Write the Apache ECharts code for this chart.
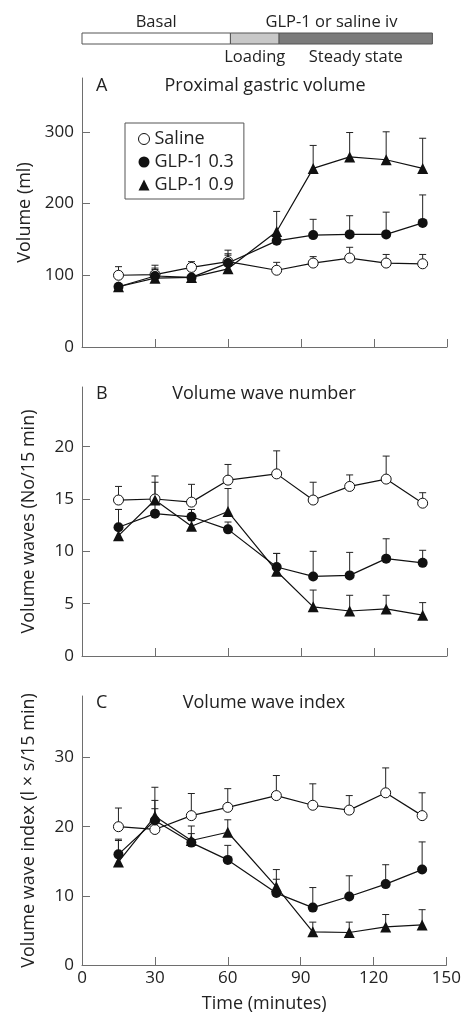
<!DOCTYPE html>
<html>
<head>
<meta charset="utf-8">
<title>GLP-1 proximal gastric volume</title>
<script src="https://cdn.jsdelivr.net/npm/echarts@6.0.0/dist/echarts.min.js"></script>
<style>
  html, body { margin: 0; padding: 0; background: #fff; }
  #chart { width: 464px; height: 1015px; }
</style>
</head>
<body>
<div id="chart"></div>
<script>
// sampling times (minutes)
var times = [15, 30, 45, 60, 80, 95, 110, 125, 140];
var xTicks = [0, 30, 60, 90, 120, 150];

// A: proximal gastric volume (ml), mean and mean+SEM
var volSaline = [100, 101, 111, 119, 107, 117, 124, 117, 116];
var volSalineErr = [112, 114, 119, 135, 118, 126, 139, 129, 129];
var volGlp03 = [84, 99, 97, 117, 148, 156, 157, 157, 173];
var volGlp03Err = [88, 110, 101, 130, 152, 178, 183, 188, 212];
var volGlp09 = [84, 96, 97, 109, 161, 249, 265, 261, 249];
var volGlp09Err = [88, 108, 101, 128, 189, 281, 299, 300, 291];
var volTicks = [0, 100, 200, 300];

// B: volume wave number (No/15 min)
var numSaline = [14.9, 15.0, 14.7, 16.8, 17.4, 14.9, 16.2, 16.9, 14.6];
var numSalineErr = [16.2, 16.6, 16.4, 18.3, 19.6, 16.6, 17.3, 19.1, 15.6];
var numGlp03 = [12.3, 13.6, 13.3, 12.1, 8.5, 7.6, 7.7, 9.3, 8.9];
var numGlp03Err = [14.0, 14.9, 14.0, 12.8, 9.8, 10.0, 9.9, 11.2, 10.1];
var numGlp09 = [11.5, 14.9, 12.4, 13.8, 8.1, 4.7, 4.3, 4.5, 3.9];
var numGlp09Err = [14.0, 17.2, 13.0, 16.0, 9.8, 6.3, 5.8, 5.8, 5.1];
var numTicks = [0, 5, 10, 15, 20];

// C: volume wave index (l x s/15 min)
var idxSaline = [20.0, 19.6, 21.6, 22.8, 24.5, 23.1, 22.4, 24.9, 21.6];
var idxSalineErr = [22.7, 22.6, 24.8, 25.5, 27.4, 26.2, 24.5, 28.5, 24.9];
var idxGlp03 = [16.0, 20.9, 17.7, 15.2, 10.4, 8.3, 9.9, 11.7, 13.8];
var idxGlp03Err = [18.2, 23.8, 20.1, 17.3, 12.4, 11.2, 12.9, 14.5, 17.8];
var idxGlp09 = [14.9, 21.5, 18.0, 19.2, 11.3, 4.8, 4.7, 5.5, 5.8];
var idxGlp09Err = [18.0, 25.7, 19.0, 21.0, 13.8, 6.2, 6.2, 7.3, 8.0];
var idxTicks = [0, 10, 20, 30];

// protocol bar (minutes)
var phaseStart = [0, 61, 81];
var phaseEnd = [61, 81, 144];
var phaseFill = ['#ffffff', '#c8c8c8', '#7b7b7b'];
var barLabels = ['Basal', 'GLP-1 or saline iv', 'Loading', 'Steady state'];
var barLabelStart = [0, 61, 61, 81];
var barLabelEnd = [61, 144, 81, 144];
var barLabelAbove = [true, true, false, false];

var FONT = '"Open Sans", "Noto Sans", sans-serif';
var INK = '#222';
var AXIS = '#6e6e6e';

var chart = echarts.init(document.getElementById('chart'), null, { renderer: 'canvas' });

function pairs(v) { return times.map(function(t, i) { return [t, v[i]]; }); }
function errPairs(v, e) { return times.map(function(t, i) { return [t, v[i], e[i]]; }); }

function errRender(params, api) {
  var x = api.value(0);
  var p0 = api.coord([x, api.value(1)]);
  var p1 = api.coord([x, api.value(2)]);
  var st = { stroke: '#222', lineWidth: 1 };
  return {
    type: 'group',
    children: [
      { type: 'line', shape: { x1: p0[0], y1: p0[1], x2: p1[0], y2: p1[1] }, style: st },
      { type: 'line', shape: { x1: p1[0] - 3.5, y1: p1[1], x2: p1[0] + 3.5, y2: p1[1] }, style: st }
    ]
  };
}

var markers = {
  'Saline': { symbol: 'circle', size: 10, itemStyle: { color: '#fff', borderColor: '#111', borderWidth: 1 } },
  'GLP-1 0.3': { symbol: 'circle', size: 10, itemStyle: { color: '#111', borderColor: '#111', borderWidth: 0 } },
  'GLP-1 0.9': { symbol: 'triangle', size: 11, itemStyle: { color: '#111', borderColor: '#111', borderWidth: 0 } }
};

var series = [];
function addGroup(k, name, vals, errs) {
  var m = markers[name];
  series.push({
    type: 'custom', name: name, xAxisIndex: k, yAxisIndex: k,
    renderItem: errRender, data: errPairs(vals, errs),
    encode: { x: 0, y: [1, 2] }, z: 2, silent: true
  });
  series.push({
    type: 'line', name: name, xAxisIndex: k, yAxisIndex: k,
    data: pairs(vals), symbol: m.symbol, symbolSize: m.size,
    lineStyle: { color: '#111', width: 1.2 }, itemStyle: m.itemStyle, z: 3
  });
}
addGroup(0, 'Saline', volSaline, volSalineErr);
addGroup(0, 'GLP-1 0.3', volGlp03, volGlp03Err);
addGroup(0, 'GLP-1 0.9', volGlp09, volGlp09Err);
addGroup(1, 'Saline', numSaline, numSalineErr);
addGroup(1, 'GLP-1 0.3', numGlp03, numGlp03Err);
addGroup(1, 'GLP-1 0.9', numGlp09, numGlp09Err);
addGroup(2, 'Saline', idxSaline, idxSalineErr);
addGroup(2, 'GLP-1 0.3', idxGlp03, idxGlp03Err);
addGroup(2, 'GLP-1 0.9', idxGlp09, idxGlp09Err);

// protocol bar
series.push({
  type: 'custom', xAxisIndex: 3, yAxisIndex: 3, silent: true,
  data: phaseStart.map(function(s, i) { return [s, phaseEnd[i], i]; }),
  encode: { x: [0, 1] },
  renderItem: function(params, api) {
    var a = api.coord([api.value(0), 1]);
    var b = api.coord([api.value(1), 0]);
    return {
      type: 'rect',
      shape: { x: a[0], y: a[1], width: b[0] - a[0], height: b[1] - a[1] },
      style: { fill: phaseFill[api.value(2)], stroke: '#555', lineWidth: 1 }
    };
  }
});
series.push({
  type: 'custom', xAxisIndex: 3, yAxisIndex: 3, silent: true,
  data: barLabelStart.map(function(s, i) { return [s, barLabelEnd[i], i]; }),
  encode: { x: [0, 1] },
  renderItem: function(params, api) {
    var i = api.value(2);
    var mid = (api.value(0) + api.value(1)) / 2;
    var p = barLabelAbove[i] ? api.coord([mid, 1]) : api.coord([mid, 0]);
    return {
      type: 'text',
      style: {
        text: barLabels[i], x: p[0], y: barLabelAbove[i] ? p[1] - 11 : p[1] + 13,
        align: 'center', verticalAlign: 'middle',
        fill: INK, font: '16.5px ' + FONT
      }
    };
  }
});

var grids = [
  { left: 82, right: 17, top: 78, height: 269 },
  { left: 82, right: 17, top: 387, height: 269 },
  { left: 82, right: 17, top: 696, height: 269 },
  { left: 82, right: 17, top: 33, height: 11 }
];

function xAxisFor(k, showLabels) {
  return {
    type: 'value', gridIndex: k, min: 0, max: 150, interval: 30,
    axisLine: { lineStyle: { color: AXIS, width: 1 } },
    axisTick: { inside: true, length: 8, lineStyle: { color: AXIS } },
    axisLabel: { show: showLabels, color: INK, fontSize: 17, fontFamily: FONT, margin: 5 },
    splitLine: { show: false },
    name: showLabels ? 'Time (minutes)' : '',
    nameLocation: 'middle', nameGap: 30,
    nameTextStyle: { color: INK, fontSize: 18, fontFamily: FONT }
  };
}
function yAxisFor(k, max, ticks, name) {
  return {
    type: 'value', gridIndex: k, min: 0, max: max,
    axisLine: { show: true, lineStyle: { color: AXIS, width: 1 } },
    axisTick: { show: true, inside: true, length: 8, customValues: ticks, lineStyle: { color: AXIS } },
    axisLabel: { color: INK, fontSize: 17, fontFamily: FONT, margin: 8, customValues: ticks },
    splitLine: { show: false },
    name: name, nameLocation: 'middle', nameGap: 44,
    nameTextStyle: { color: INK, fontSize: 18, fontFamily: FONT }
  };
}

var titleStyle = { color: INK, fontSize: 18, fontWeight: 'normal', fontFamily: FONT };
function title(text, left, top, align) {
  return { text: text, left: left, top: top, textAlign: align, padding: 0, textStyle: titleStyle };
}

chart.setOption({
  animation: false,
  backgroundColor: '#fff',
  title: [
    title('A', 96, 77, 'left'),
    title('Proximal gastric volume', 265, 77, 'center'),
    title('B', 96, 385, 'left'),
    title('Volume wave number', 264, 385, 'center'),
    title('C', 96, 694, 'left'),
    title('Volume wave index', 264, 694, 'center')
  ],
  legend: {
    orient: 'vertical', left: 125, top: 123,
    padding: [7, 10, 5, 13], itemGap: 5, itemWidth: 11, itemHeight: 11,
    borderColor: '#555', borderWidth: 1,
    textStyle: { color: INK, fontSize: 18, fontFamily: FONT },
    data: [
      { name: 'Saline', icon: 'circle', itemStyle: { color: '#fff', borderColor: '#111', borderWidth: 1 } },
      { name: 'GLP-1 0.3', icon: 'circle', itemStyle: { color: '#111' } },
      { name: 'GLP-1 0.9', icon: 'triangle', itemStyle: { color: '#111' } }
    ]
  },
  grid: grids,
  xAxis: [
    xAxisFor(0, false),
    xAxisFor(1, false),
    xAxisFor(2, true),
    { type: 'value', gridIndex: 3, min: 0, max: 150, show: false }
  ],
  yAxis: [
    yAxisFor(0, 375, volTicks, 'Volume (ml)'),
    yAxisFor(1, 25.7, numTicks, 'Volume waves (No/15 min)'),
    yAxisFor(2, 38.9, idxTicks, 'Volume wave index (l \u00d7 s/15 min)'),
    { type: 'value', gridIndex: 3, min: 0, max: 1, show: false }
  ],
  series: series
});

window.addEventListener('resize', function() { chart.resize(); });
</script>
</body>
</html>
